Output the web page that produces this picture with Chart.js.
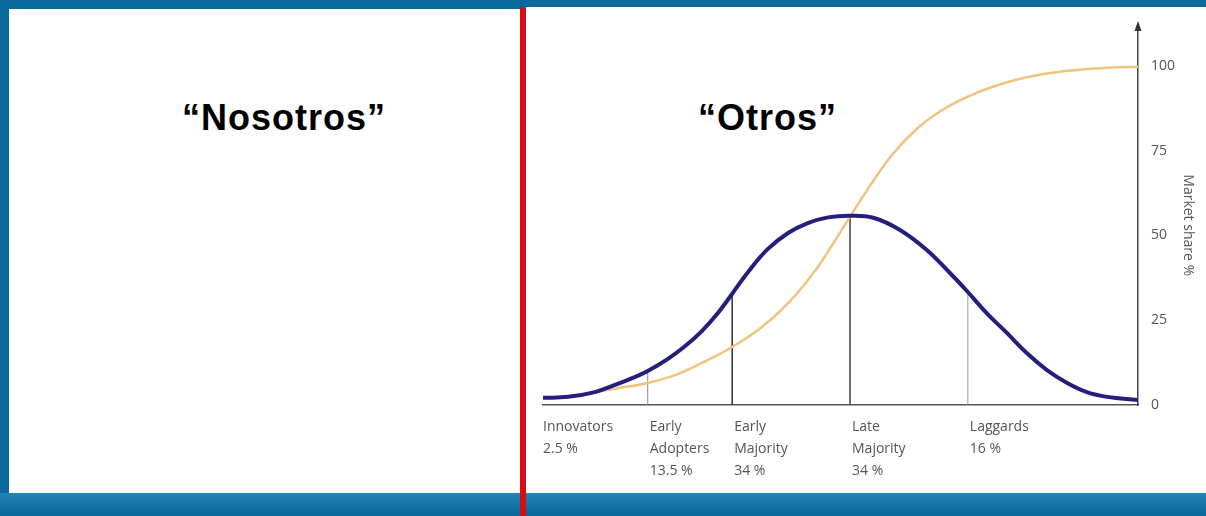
<!DOCTYPE html>
<html>
<head>
<meta charset="utf-8">
<script src="https://cdn.jsdelivr.net/npm/chart.js@4/dist/chart.umd.min.js"></script>
<style>
  html, body { margin: 0; padding: 0; }
  body { width: 1206px; height: 516px; position: relative; overflow: hidden;
         background: #0a6a9c; }
  .band { position: absolute; left: 0; top: 493px; width: 1206px; height: 23px;
          background: linear-gradient(#2283b8, #1a78ad 40%, #0a6599); }
  .panel { position: absolute; background: #fff; }
  .redline { position: absolute; left: 520px; top: 8px; width: 6px; height: 508px; background: #d40f14; }
  .title { position: absolute; font-family: "Liberation Sans", Arial, sans-serif; font-weight: bold;
           font-size: 36px; line-height: 36px; letter-spacing: 1px; color: #000; white-space: nowrap; }
  #wrap { position: absolute; left: 530px; top: 0; width: 676px; height: 493px; }
</style>
</head>
<body>
<div class="band"></div>
<div class="panel" style="left:9px;top:9px;width:511px;height:484px"></div>
<div class="panel" style="left:526px;top:7px;width:680px;height:486px"></div>
<div class="redline"></div>
<div class="title" style="left:182px;top:100px">“Nosotros”</div>
<div class="title" style="left:698px;top:100px">“Otros”</div>
<div id="wrap"><canvas id="diffusionChart"></canvas></div>

<script>
// adopter categories along the bottom
const categoryNames = [["Innovators"], ["Early", "Adopters"], ["Early", "Majority"], ["Late", "Majority"], ["Laggards"]];
const categoryShares = ["2.5 %", "13.5 %", "34 %", "34 %", "16 %"];
const categoryStartX = [0, 17.6, 31.8, 51.6, 71.4];

// bell curve (adopters)
const bellX = [0, 4.2, 8.7, 12.1, 15.5, 17.6, 21, 23.9, 26.7, 29.4, 31.8, 34.5, 37.8, 41.2, 44.5, 47.9, 51.6,
               55.5, 60, 64.5, 68.4, 71.4, 74.6, 78, 81.3, 84.7, 88.1, 91.4, 94.8, 100];
const bellY = [2.1, 2.4, 3.8, 5.9, 8.3, 10, 13.6, 17.4, 21.8, 27.1, 32.8, 39.3, 46, 50.7, 53.6, 55.3, 55.8,
               55.2, 51.6, 45.7, 38.9, 33.3, 27, 21.2, 15.3, 10.3, 6.5, 3.8, 2.4, 1.5];

// s-curve (market share)
const shareX = [8.7, 12.1, 17.6, 22.2, 26.7, 31.8, 36.8, 41.2, 45.7, 49.1, 51.6, 55.5, 58.8, 62.9, 66.7,
                71.3, 75.6, 81.3, 88.1, 94.8, 100];
const shareY = [3.8, 4.8, 6.5, 8.8, 12.4, 17.1, 23, 30, 39.5, 48.5, 55.5, 66, 74, 81.5, 86.5,
                90.8, 93.8, 96.6, 98.5, 99.4, 99.7];

// vertical separators between categories
const boundaryX = [17.6, 31.8, 51.6, 71.4];
const boundaryTop = [10, 33, 55.8, 33.3];
const boundaryColors = ["#8a8a8a", "#3a3a3a", "#4a4a4a", "#9a9a9a"];
const boundaryWidths = [1, 1.6, 1.6, 1];

const yTicks = [0, 25, 50, 75, 100];
const yTitle = 'Market share %';

function pairs(xs, ys) {
  return xs.map(function(x, i) { return {x: x, y: ys[i]}; });
}

const datasets = [
  {
    label: 'Adopters',
    data: pairs(bellX, bellY),
    borderColor: '#241f7e',
    borderWidth: 4,
    pointRadius: 0,
    tension: 0.4
  },
  {
    label: 'Market share',
    data: pairs(shareX, shareY),
    borderColor: '#f1c37e',
    borderWidth: 2.5,
    pointRadius: 0,
    tension: 0.4
  }
];
boundaryX.forEach(function(bx, i) {
  datasets.push({
    label: 'sep' + i,
    data: [{x: bx, y: 0}, {x: bx, y: boundaryTop[i]}],
    borderColor: boundaryColors[i],
    borderWidth: boundaryWidths[i],
    pointRadius: 0
  });
});

const bottomLabels = {
  id: 'bottomLabels',
  afterDraw: function(chart) {
    const ctx = chart.ctx;
    const xs = chart.scales.x;
    const bottom = chart.scales.y.getPixelForValue(0);
    ctx.save();
    ctx.fillStyle = '#555';
    ctx.font = '14px "Open Sans", sans-serif';
    ctx.textAlign = 'left';
    ctx.textBaseline = 'middle';
    categoryNames.forEach(function(lines, i) {
      const px = xs.getPixelForValue(categoryStartX[i]) + (i === 0 ? 0 : 2);
      const rows = lines.concat([categoryShares[i]]);
      rows.forEach(function(t, r) {
        ctx.fillText(t, px, bottom + 22 + r * 22);
      });
    });
    // axis title, rotated, a little below the axis middle like the original
    ctx.save();
    ctx.translate(chart.chartArea.right + 50, chart.scales.y.getPixelForValue(53));
    ctx.rotate(Math.PI / 2);
    ctx.textAlign = 'center';
    ctx.fillText(yTitle, 0, 0);
    ctx.restore();
    // arrow head on the share axis
    const ax = chart.chartArea.right;
    const ay = chart.chartArea.top;
    ctx.fillStyle = '#333';
    ctx.beginPath();
    ctx.moveTo(ax, ay - 4);
    ctx.lineTo(ax - 3.5, ay + 6);
    ctx.lineTo(ax + 3.5, ay + 6);
    ctx.closePath();
    ctx.fill();
    ctx.restore();
  }
};

var ctx = document.getElementById('diffusionChart').getContext('2d');
var chart = new Chart(ctx, {
  type: 'line',
  data: { datasets: datasets },
  options: {
    responsive: true,
    maintainAspectRatio: false,
    animation: false,
    layout: { padding: { left: 13, top: 25, right: 0, bottom: 0 } },
    plugins: { legend: { display: false }, tooltip: { enabled: false } },
    scales: {
      x: {
        type: 'linear',
        min: 0,
        max: 100,
        grid: { display: false },
        ticks: { display: false },
        border: { display: true, color: '#555', width: 1.5 },
        afterFit: function(scale) { scale.height = 88; }
      },
      y: {
        position: 'right',
        min: 0,
        max: 112,
        grid: { display: false },
        border: { display: true, color: '#444', width: 1.5 },
        afterBuildTicks: function(scale) {
          scale.ticks = yTicks.map(function(v) { return {value: v}; });
        },
        ticks: {
          color: '#555',
          padding: 5,
          font: { family: '"Open Sans", sans-serif', size: 14 }
        },
        afterFit: function(scale) { scale.width = 68; }
      }
    }
  },
  plugins: [bottomLabels]
});
</script>
</body>
</html>
